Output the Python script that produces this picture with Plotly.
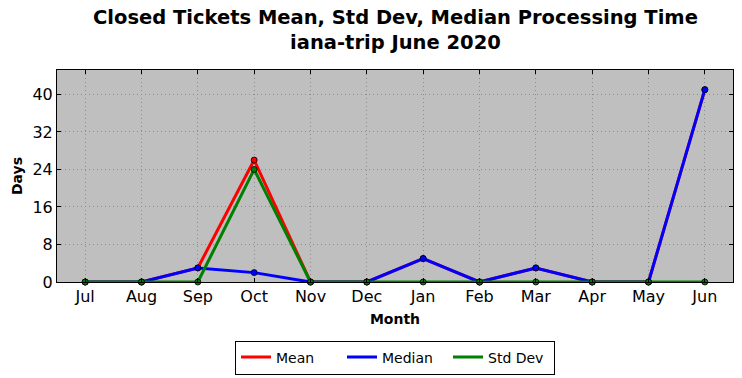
import plotly.graph_objects as go

months = ["Jul", "Aug", "Sep", "Oct", "Nov", "Dec", "Jan", "Feb", "Mar", "Apr", "May", "Jun"]
mean_vals = [0, 0, 3, 26, 0, 0, 5, 0, 3, 0, 0, 41]
median_vals = [0, 0, 3, 2, 0, 0, 5, 0, 3, 0, 0, 41]
std_vals = [0, 0, 0, 24, 0, 0, 0, 0, 0, 0, 0, 0]
y_ticks = [0, 8, 16, 24, 32, 40]

series = [("Mean", mean_vals, "#ff0000"), ("Median", median_vals, "#0000ff"), ("Std Dev", std_vals, "#008000")]

fig = go.Figure()
for name, vals, color in series:
    fig.add_trace(go.Scatter(
        x=list(range(len(months))), y=vals, mode="lines+markers", name=name,
        line=dict(color=color, width=3),
        marker=dict(size=6, color=color, line=dict(color="#000000", width=0.8)),
        showlegend=False, cliponaxis=False,
    ))
for name, vals, color in series:
    fig.add_trace(go.Scatter(
        x=[None], y=[None], mode="lines", name=name,
        line=dict(color=color, width=3),
    ))

font_family = "DejaVu Sans"
fig.update_layout(
    width=742, height=378,
    margin=dict(l=57, r=9, t=70, b=96, autoexpand=False),
    paper_bgcolor="white", plot_bgcolor="#bfbfbf",
    font=dict(family=font_family, color="black"),
    showlegend=True,
    legend=dict(
        orientation="h", x=0.5, xanchor="center", xref="paper",
        y=-0.276, yanchor="top",
        bordercolor="black", borderwidth=1, bgcolor="white",
        font=dict(size=14), entrywidth=61, itemwidth=30, tracegroupgap=0,
    ),
    annotations=[dict(
        text="<b>Closed Tickets Mean, Std Dev, Median Processing Time<br>iana-trip June 2020</b>",
        xref="paper", yref="paper", x=0.5, y=1 + 40 / 212, xanchor="center", yanchor="middle",
        showarrow=False, font=dict(size=19.5, family=font_family),
    )],
)
grid = dict(showgrid=True, gridcolor="#8c8c8c", griddash="1px,3px", gridwidth=1)
fig.update_xaxes(
    range=[-0.5, len(months) - 0.5], automargin=False,
    tickmode="array", tickvals=list(range(len(months))), ticktext=months,
    tickfont=dict(size=16),
    title=dict(text="<b>Month</b>", font=dict(size=14), standoff=8),
    showline=True, linecolor="black", linewidth=1, mirror="allticks",
    ticks="inside", ticklen=4, tickcolor="black", zeroline=False, **grid,
)
fig.update_yaxes(
    range=[0, 45.2], automargin=False,
    tickmode="array", tickvals=y_ticks,
    tickfont=dict(size=16),
    title=dict(text="<b>Days</b>", font=dict(size=14), standoff=6),
    showline=True, linecolor="black", linewidth=1, mirror="allticks",
    ticks="inside", ticklen=4, tickcolor="black", zeroline=False, **grid,
)

fig.write_html("out.html", config={"displayModeBar": False},
               post_script="document.body.style.margin='0';")
